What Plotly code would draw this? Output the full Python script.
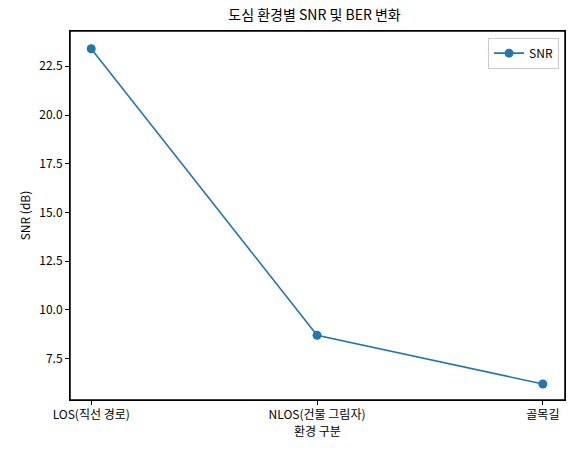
import plotly.graph_objects as go

environments = ["LOS(직선 경로)", "NLOS(건물 그림자)", "골목길"]
snr_db = [23.4, 8.7, 6.2]

FONT = "Noto Sans CJK KR, DejaVu Sans, sans-serif"
BLUE = "#1f77b4"

fig = go.Figure()
fig.add_trace(go.Scatter(
    x=environments, y=snr_db,
    name="SNR",
    mode="lines+markers",
    line=dict(color=BLUE, width=1.6),
    marker=dict(color=BLUE, size=9),
))

# frame around the axes
fig.add_shape(type="rect", xref="x domain", yref="y domain", x0=0, y0=0, x1=1, y1=1,
              line=dict(color="black", width=1.5), fillcolor="rgba(0,0,0,0)", layer="above")

fig.update_layout(
    title=dict(text="도심 환경별 SNR 및 BER 변화", x=0.548, xanchor="center",
               y=0.978, yanchor="top", font=dict(size=14, color="black", family=FONT)),
    width=574, height=454,
    paper_bgcolor="white", plot_bgcolor="white",
    font=dict(family=FONT, size=12, color="black"),
    margin=dict(l=70, r=9, t=31, b=54),
    showlegend=True,
    legend=dict(x=0.988, y=0.982, xanchor="right", yanchor="top",
                bgcolor="rgba(255,255,255,0.8)", bordercolor="#cccccc", borderwidth=1,
                font=dict(size=12, family=FONT)),
    xaxis=dict(
        title=dict(text="환경 구분", standoff=4, font=dict(size=12)),
        range=[-0.094, 2.098],
        showline=True, linecolor="black", linewidth=1, mirror=True,
        ticks="outside", ticklen=4, tickcolor="black",
        showgrid=False, zeroline=False,
    ),
    yaxis=dict(
        title=dict(text="SNR (dB)", standoff=6, font=dict(size=12)),
        range=[5.38, 24.31],
        tick0=0, dtick=2.5, tickformat=".1f",
        showline=True, linecolor="black", linewidth=1, mirror=True,
        ticks="outside", ticklen=4, tickcolor="black",
        showgrid=False, zeroline=False,
    ),
)

fig.write_html(
    "out.html",
    config={"displayModeBar": False},
    post_script="document.body.style.margin='0';document.body.style.overflow='hidden';",
)
